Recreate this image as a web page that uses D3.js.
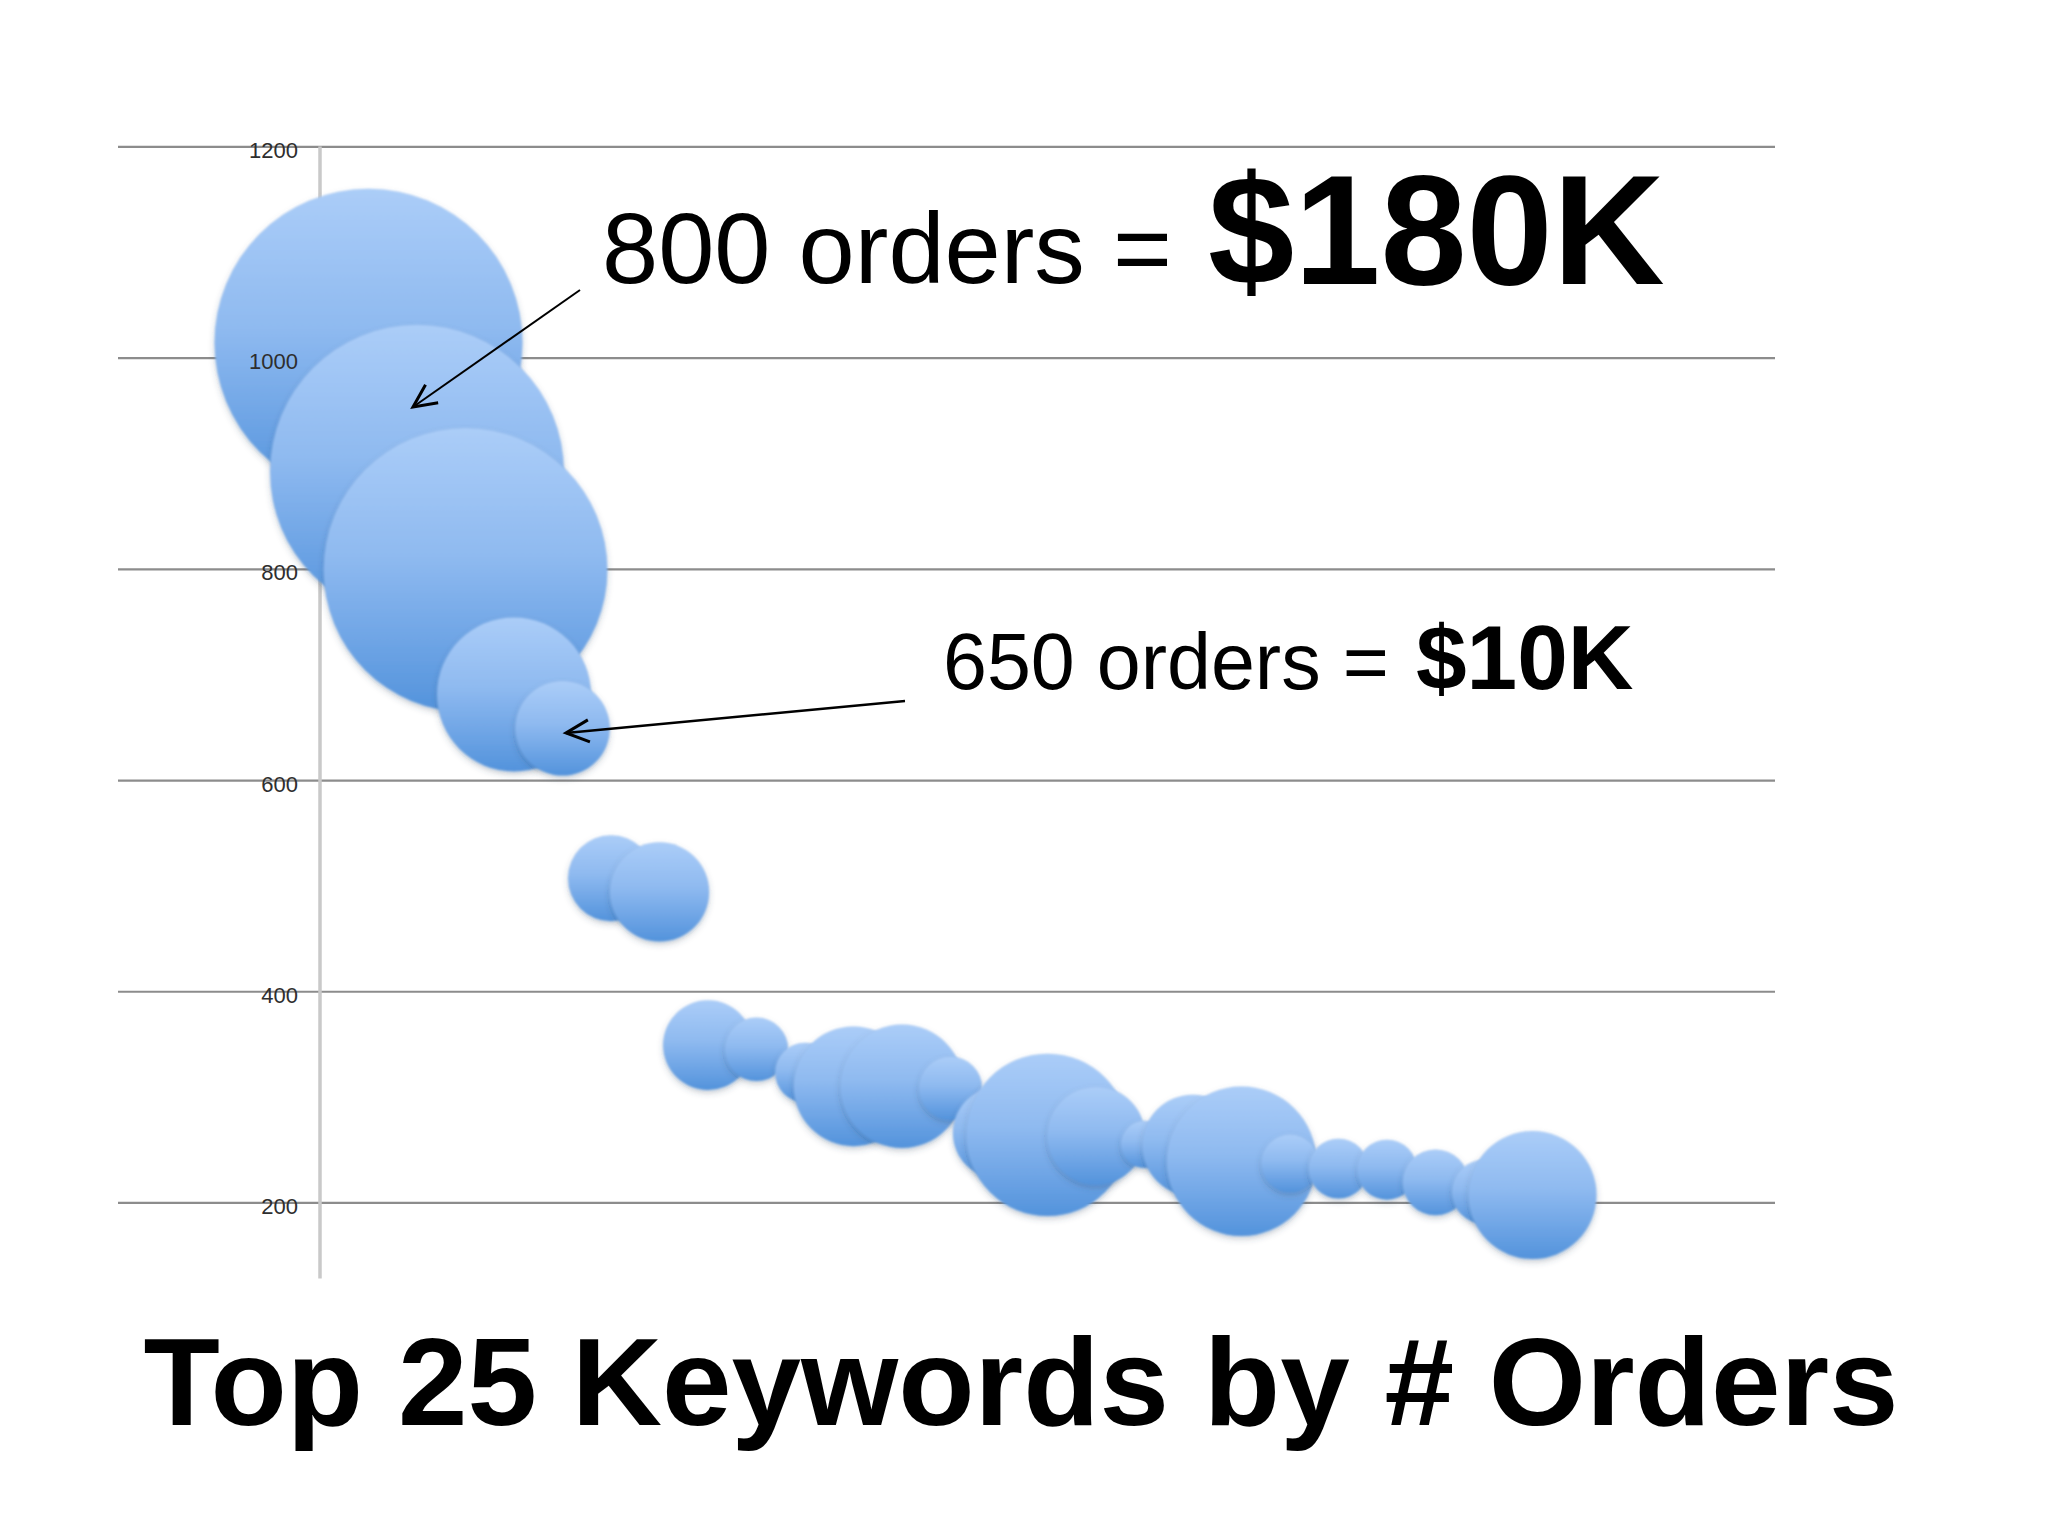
<!DOCTYPE html>
<html>
<head>
<meta charset="utf-8">
<script src="https://cdn.jsdelivr.net/npm/d3@7"></script>
<style>
  html, body { margin: 0; padding: 0; background: #ffffff; }
  svg { display: block; }
</style>
</head>
<body>
<svg id="chart" width="2048" height="1536"></svg>
<script>
// ---- data ----
const ranks   = [1,2,3,4,5,6,7,8,9,10,11,12,13,14,15,16,17,18,19,20,21,22,23,24,25];
const orders  = [1014,892,799,681,649,507,494,349,345,323,310,310,308,266,264,263,255,254,239,237,232,231,219,210,207];
const revenueK = [212,193,180,53,20,16.5,22,18,9,8,32,34,9,19,59,21.5,5,23,50,7.5,8,8,9.7,9.2,36.6];
const yTicks  = [200,400,600,800,1000,1200];
const titleText = "Top 25 Keywords by # Orders";
const note1 = ["800 orders = ", "$180K"];
const note2 = ["650 orders = ", "$10K"];

const svg = d3.select("#chart");
const W = 2048, H = 1536;
svg.append("rect").attr("width", W).attr("height", H).attr("fill", "#ffffff");

// scales
const x = d3.scaleLinear().domain([0, 30]).range([320, 1775]);
const y = d3.scaleLinear().domain([128, 1200]).range([1278.5, 146.4]);
const r = d3.scaleSqrt().domain([0, 212]).range([0, 154]);

// defs
const defs = svg.append("defs");
const grad = defs.append("linearGradient").attr("id", "bubbleGrad")
  .attr("x1", 0).attr("y1", 0).attr("x2", 0).attr("y2", 1);
grad.append("stop").attr("offset", "0%").attr("stop-color", "#abcdf8");
grad.append("stop").attr("offset", "45%").attr("stop-color", "#8fbaf0");
grad.append("stop").attr("offset", "100%").attr("stop-color", "#5393dc");

const f = defs.append("filter").attr("id", "soft")
  .attr("x", "-20%").attr("y", "-20%").attr("width", "140%").attr("height", "150%");
f.append("feGaussianBlur").attr("in", "SourceAlpha").attr("stdDeviation", 3).attr("result", "b");
f.append("feOffset").attr("in", "b").attr("dy", 3).attr("result", "o");
f.append("feFlood").attr("flood-color", "#3a4a60").attr("flood-opacity", 0.28).attr("result", "c");
f.append("feComposite").attr("in", "c").attr("in2", "o").attr("operator", "in").attr("result", "s");
f.append("feGaussianBlur").attr("in", "SourceGraphic").attr("stdDeviation", 1.3).attr("result", "g");
const fm = f.append("feMerge");
fm.append("feMergeNode").attr("in", "s");
fm.append("feMergeNode").attr("in", "g");

function arrowMarker(id, len, half) {
  defs.append("marker").attr("id", id)
    .attr("markerUnits", "userSpaceOnUse")
    .attr("viewBox", `${-len - 4} ${-half - 4} ${len + 8} ${2 * half + 8}`)
    .attr("refX", 0).attr("refY", 0)
    .attr("markerWidth", len + 8).attr("markerHeight", 2 * half + 8)
    .attr("orient", "auto")
    .append("path")
    .attr("d", `M${-len},${-half} L0,0 L${-len},${half}`)
    .attr("fill", "none").attr("stroke", "#000").attr("stroke-width", 3)
    .attr("stroke-linejoin", "miter");
}
arrowMarker("arrowA", 23, 11);

// gridlines (behind bubbles)
const grid = svg.append("g").attr("transform", `translate(${x(30)},0)`)
  .call(d3.axisLeft(y).tickValues(yTicks).tickSize(x(30) - 118).tickFormat(""));
grid.select(".domain").remove();
grid.selectAll(".tick line").attr("stroke", "#8c8c8c").attr("stroke-width", 2.2);

// vertical axis line
svg.append("line")
  .attr("x1", x(0)).attr("x2", x(0))
  .attr("y1", y(1200)).attr("y2", y(128))
  .attr("stroke", "#c9c9c9").attr("stroke-width", 3.5);

// bubbles
const data = ranks.map((k, i) => ({ rank: k, orders: orders[i], rev: revenueK[i] }));
svg.append("g").selectAll("circle").data(data).join("circle")
  .attr("cx", d => x(d.rank))
  .attr("cy", d => y(d.orders))
  .attr("r", d => r(d.rev))
  .attr("fill", "url(#bubbleGrad)")
  .attr("filter", "url(#soft)");

// tick labels (on top)
const lab = svg.append("g").attr("transform", `translate(298,0)`)
  .call(d3.axisLeft(y).tickValues(yTicks).tickSize(0).tickPadding(0).tickFormat(d3.format("d")));
lab.select(".domain").remove();
lab.selectAll(".tick line").remove();
lab.selectAll("text")
  .attr("font-family", "'Liberation Sans', Arial, sans-serif")
  .attr("font-size", 22)
  .attr("fill", "#2e2e2e")
  .attr("dy", "0.5em");

// annotations
const font = "'Liberation Sans', Arial, Helvetica, sans-serif";
svg.append("text").attr("x", 602).attr("y", 283)
  .attr("font-family", font).attr("font-size", 101).attr("fill", "#000")
  .text(note1[0]);
svg.append("text").attr("x", 1208).attr("y", 284)
  .attr("font-family", font).attr("font-size", 155).attr("font-weight", "bold").attr("fill", "#000")
  .text(note1[1]);
svg.append("text").attr("x", 943).attr("y", 689)
  .attr("font-family", font).attr("font-size", 79).attr("fill", "#000")
  .text(note2[0]);
svg.append("text").attr("x", 1416).attr("y", 689)
  .attr("font-family", font).attr("font-size", 91).attr("font-weight", "bold").attr("fill", "#000")
  .text(note2[1]);

// arrows
svg.append("line")
  .attr("x1", 580).attr("y1", 290).attr("x2", 413).attr("y2", 407)
  .attr("stroke", "#000").attr("stroke-width", 2)
  .attr("marker-end", "url(#arrowA)");
svg.append("line")
  .attr("x1", 905).attr("y1", 701).attr("x2", 566).attr("y2", 733)
  .attr("stroke", "#000").attr("stroke-width", 2.4)
  .attr("marker-end", "url(#arrowA)");

// title
svg.append("text").attr("x", 1021).attr("y", 1425)
  .attr("text-anchor", "middle")
  .attr("font-family", font).attr("font-size", 125).attr("font-weight", "bold").attr("fill", "#000")
  .text(titleText);
</script>
</body>
</html>
